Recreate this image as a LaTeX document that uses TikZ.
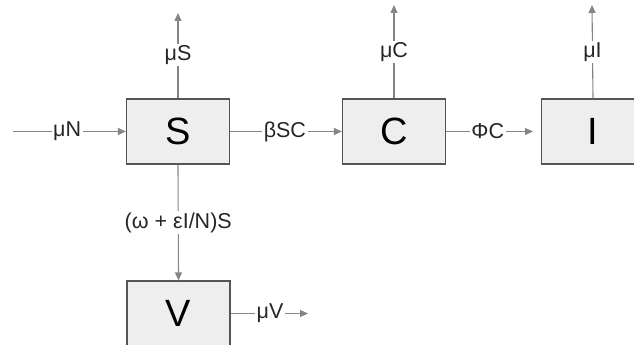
\documentclass[tikz,border=0pt]{standalone}
\usepackage{fontspec}
\setmainfont{Liberation Sans}
\usetikzlibrary{arrows.meta}
\definecolor{boxline}{HTML}{555555}
\definecolor{boxfill}{HTML}{EEEEEE}
\definecolor{linegray}{HTML}{858585}
\begin{document}
\begin{tikzpicture}[x=1pt,y=-1pt,
 box/.style={draw=boxline,fill=boxfill,line width=1.2pt,minimum width=103pt,minimum height=65pt,inner sep=0pt,font=\fontsize{38}{40}\selectfont},
 flow/.style={draw=linegray,line width=1.1pt,-{Triangle[length=8pt,width=7pt,fill=linegray]}},
 lab/.style={fill=white,inner sep=1.5pt,font=\fontsize{21.5}{24}\selectfont,text=black!85}]
\useasboundingbox (0,0) rectangle (634,345);
\node[box] (S) at (178,131.5) {S};
\node[box] (C) at (394,131.5) {C};
\node[box] (I) at (593,131.5) {I};
\node[box,minimum height=80pt,label={[font=\fontsize{38}{40}\selectfont,yshift=7.5pt]center:V}] (V) at (178.5,321) {};
\coordinate (inN) at (13,131.5);
\coordinate (outS) at (178,13);
\coordinate (outC) at (394,5);
\coordinate (toI) at (533,131.5);
\coordinate (outI) at (592,5);
\coordinate (outV) at (308,313.5);
\draw[flow] (inN) -- node[lab,pos=0.48] {μN} (S.west);
\draw[flow] (S.north) -- node[lab,pos=0.51] {μS} (outS);
\draw[flow] (S.east) -- node[lab,pos=0.49] {βSC} (C.west);
\draw[flow] (C.north) -- node[lab,pos=0.5] {μC} (outC);
\draw[flow] (C.east) -- node[lab,pos=0.48] {ΦC} (toI);
\draw[flow] (I.north) -- node[lab,pos=0.5] {μI} (outI);
\draw[flow] (S.south) -- node[lab,pos=0.5] {(ω + εI/N)S} (V.north);
\draw[flow] (V.east |- outV) -- node[lab,pos=0.51] {μV} (outV);
\end{tikzpicture}
\end{document}
